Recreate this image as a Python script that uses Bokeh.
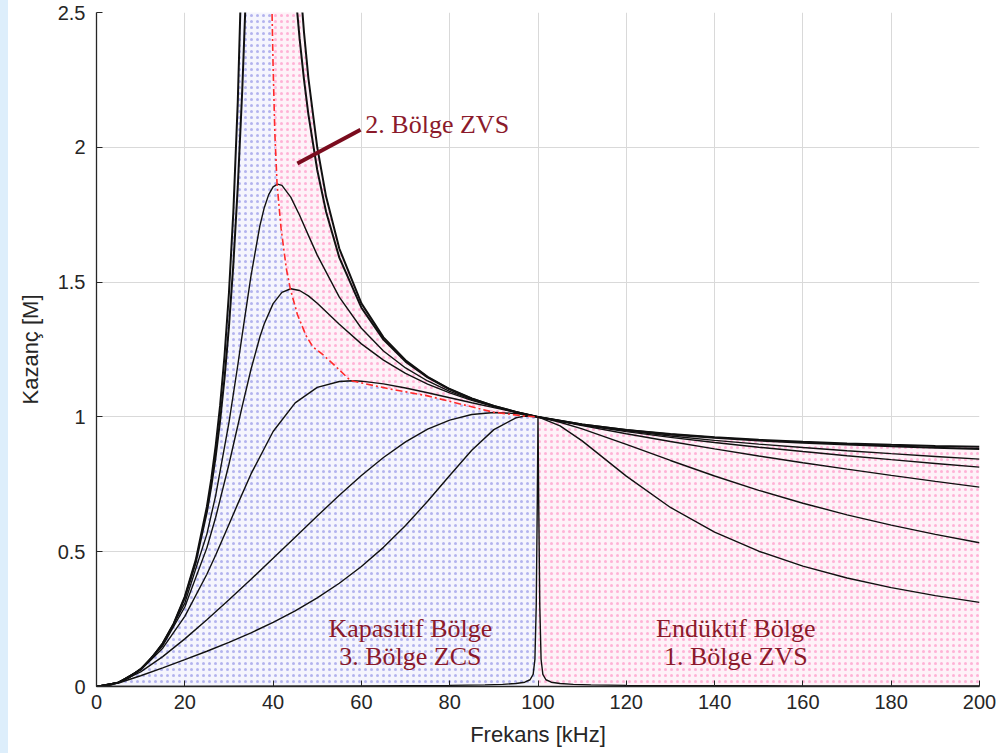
from bokeh.plotting import figure
from bokeh.models import Range1d, FixedTicker, Label, Spacer
from bokeh.layouts import row
from bokeh.embed import file_html
from bokeh.resources import INLINE

# ---------------- data (frequency in kHz, gain M) ----------------
x_ticks = [0, 20, 40, 60, 80, 100, 120, 140, 160, 180, 200]
y_ticks = [0, 0.5, 1, 1.5, 2, 2.5]
y_tick_labels = ["0", "0.5", "1", "1.5", "2", "2.5"]

q0_x = [0, 2.5, 5, 7.5, 10, 12.5, 15, 17.5, 20, 22.5, 25, 26, 27, 28, 29, 30, 31, 32, 33, 34, 44, 45,
        46, 47, 48, 50, 52, 55, 60, 65, 70, 75, 80, 85, 90, 95, 100, 110, 120, 130, 140, 150, 160,
        170, 180, 190, 200]
q0_m = [0, 0.0038, 0.0153, 0.0351, 0.0645, 0.1053, 0.1602, 0.2339, 0.3333, 0.4705, 0.6667, 0.770,
        0.8932, 1.0426, 1.2268, 1.4595, 1.7617, 2.169, 2.749, 3.635, 3.270, 2.910, 2.638, 2.426,
        2.256, 2.0, 1.8172, 1.6242, 1.4211, 1.2950, 1.2099, 1.1489, 1.1034, 1.0684, 1.0407, 1.0183,
        1.0, 0.9719, 0.9515, 0.9363, 0.9245, 0.9153, 0.9078, 0.9017, 0.8967, 0.8925, 0.8889]

q01_x = [0, 2.5, 5, 7.5, 10, 12.5, 15, 17.5, 20, 22.5, 25, 26, 27, 28, 29, 30, 31, 32, 33, 34, 35, 42,
         44, 45, 46, 47, 48, 50, 52, 55, 60, 65, 70, 75, 80, 85, 90, 95, 100, 110, 120, 130, 140,
         150, 160, 170, 180, 190, 200]
q01_m = [0, 0.0038, 0.0153, 0.0351, 0.0644, 0.1049, 0.1594, 0.2320, 0.3291, 0.4615, 0.6468, 0.7422,
         0.8540, 0.9860, 1.1440, 1.3346, 1.5668, 1.853, 2.207, 2.641, 3.154, 3.377, 2.805, 2.586,
         2.404, 2.251, 2.1215, 1.9157, 1.7608, 1.5907, 1.4050, 1.2865, 1.2052, 1.1464, 1.1021,
         1.0677, 1.0404, 1.0183, 1.0, 0.9717, 0.9510, 0.9351, 0.9226, 0.9126, 0.9043, 0.8972,
         0.8911, 0.8858, 0.8811]

q025_x = [0, 5, 10, 15, 20, 25, 27, 30, 32, 33, 35, 37, 38, 39, 40, 41, 42, 44, 46, 48, 50, 55, 60,
          65, 70, 75, 80, 85, 90, 95, 100, 110, 120, 130, 140, 150, 160, 170, 180, 190, 200]
q025_m = [0, 0.0152, 0.0637, 0.1550, 0.3095, 0.5653, 0.7088, 0.9784, 1.1916, 1.3039, 1.5243, 1.7084,
          1.7761, 1.8245, 1.8530, 1.8633, 1.8585, 1.8153, 1.7481, 1.6734, 1.6000, 1.4440, 1.3288,
          1.2445, 1.1815, 1.1332, 1.0950, 1.0644, 1.0391, 1.0180, 1.0, 0.9708, 0.9480, 0.9291,
          0.9131, 0.8991, 0.8864, 0.8747, 0.8637, 0.8533, 0.8433]

q033_x = [0, 5, 10, 15, 20, 25, 27, 30, 32, 33, 35, 37, 38, 40, 42, 44, 46, 48, 50, 55, 60, 65, 70,
          75, 80, 85, 90, 95, 100, 110, 120, 130, 140, 150, 160, 170, 180, 190, 200]
q033_m = [0, 0.0152, 0.0631, 0.1515, 0.2948, 0.5142, 0.6278, 0.8243, 0.9671, 1.0390, 1.1768, 1.2962,
          1.3458, 1.4201, 1.4619, 1.4754, 1.4688, 1.4488, 1.4213, 1.3433, 1.2709, 1.2107, 1.1617,
          1.1218, 1.0889, 1.0614, 1.0380, 1.0177, 1.0, 0.9701, 0.9453, 0.9239, 0.9050, 0.8876,
          0.8714, 0.8561, 0.8414, 0.8273, 0.8136]

q05_x = [0, 5, 10, 15, 20, 25, 27, 30, 32, 35, 40, 45, 50, 55, 58, 60, 65, 70, 75, 80, 85, 90, 95,
         100, 110, 120, 130, 140, 150, 160, 170, 180, 190, 200]
q05_m = [0, 0.0151, 0.0615, 0.1420, 0.2603, 0.4165, 0.4879, 0.6009, 0.6774, 0.7884, 0.9457, 1.0522,
         1.1094, 1.1314, 1.1340, 1.1325, 1.1225, 1.1071, 1.0894, 1.0709, 1.0525, 1.0345, 1.0169,
         1.0, 0.9677, 0.9374, 0.9087, 0.8813, 0.8552, 0.8301, 0.8061, 0.7830, 0.7609, 0.7396]

q1_x = [0, 5, 10, 15, 20, 25, 30, 35, 40, 45, 50, 55, 60, 65, 70, 75, 80, 85, 90, 95, 100, 105, 110,
        120, 130, 140, 150, 160, 170, 180, 190, 200]
q1_m = [0, 0.0146, 0.0544, 0.1108, 0.1767, 0.2476, 0.3216, 0.3977, 0.4753, 0.5539, 0.6325, 0.7094,
        0.7825, 0.8495, 0.9076, 0.9544, 0.9883, 1.0088, 1.0164, 1.0128, 1.0, 0.9802, 0.9556,
        0.8984, 0.8384, 0.7808, 0.7277, 0.6798, 0.6368, 0.5984, 0.5641, 0.5333]

q2_x = [0, 5, 10, 15, 20, 25, 30, 35, 40, 45, 50, 55, 60, 65, 70, 75, 80, 85, 90, 95, 97, 100, 105,
        110, 120, 130, 140, 150, 160, 170, 180, 190, 200]
q2_m = [0, 0.0130, 0.0398, 0.0692, 0.0994, 0.1307, 0.1638, 0.1993, 0.2380, 0.2808, 0.3288, 0.3831,
        0.4452, 0.5161, 0.5969, 0.6870, 0.7829, 0.8763, 0.9528, 0.9968, 1.0030, 1.0, 0.9670,
        0.9112, 0.7803, 0.6641, 0.5725, 0.5018, 0.4465, 0.4025, 0.3667, 0.3370, 0.3121]

spike_x = [0, 20, 40, 60, 80, 88, 92, 95, 97, 98.2, 98.9, 99.3, 99.6, 99.85, 100, 100.15, 100.4,
           100.7, 101.1, 101.8, 103, 105, 108, 112, 120, 140, 160, 180, 200]
spike_m = [0, 0.0004, 0.001, 0.002, 0.004, 0.006, 0.008, 0.011, 0.016, 0.025, 0.045, 0.1, 0.3, 0.7,
           1.0, 0.7, 0.3, 0.1, 0.045, 0.025, 0.016, 0.011, 0.008, 0.006, 0.004, 0.003, 0.0025,
           0.002, 0.002]

# boundary between ZCS and ZVS (dash-dot red)
border_x = [39.7, 40.0, 40.4, 40.9, 41.8, 43.0, 43.9, 45.5, 47.5, 49.0, 51.0, 54.0, 57.5, 66.0,
            75.0, 90.0, 97.0, 100.0]
border_m = [2.55, 2.30, 2.05, 1.863, 1.70, 1.55, 1.475, 1.38, 1.30, 1.26, 1.235, 1.19, 1.135, 1.105,
            1.078, 1.017, 1.003, 1.0]

region_texts = ["Kapasitif Bölge", "3. Bölge ZCS", "Endüktif Bölge", "1. Bölge ZVS"]
callout_text = "2. Bölge ZVS"

# ---------------- figure ----------------
p = figure(frame_width=883, frame_height=674,
           x_range=Range1d(0, 200), y_range=Range1d(0, 2.5),
           output_backend="svg", toolbar_location=None,
           min_border_left=88, min_border_right=17, min_border_top=12, min_border_bottom=67,
           background_fill_color="white", border_fill_color="white")
p.outline_line_color = None

# shaded regions built from the curve arrays
left_branch = [(x, m) for x, m in zip(q0_x, q0_m) if x <= 34]
right_branch = [(x, m) for x, m in zip(q0_x, q0_m) if 44 <= x <= 100]
high_part = [(x, m) for x, m in zip(q0_x, q0_m) if x >= 100]

blue_x = [x for x, _ in left_branch] + border_x + [100, 0]
blue_y = [m for _, m in left_branch] + border_m + [0, 0]
pink2_x = border_x + [x for x, _ in reversed(right_branch)]
pink2_y = border_m + [m for _, m in reversed(right_branch)]
pink1_x = [x for x, _ in high_part] + [200, 100]
pink1_y = [m for _, m in high_part] + [0, 0]

blue_style = dict(fill_color="#F5F5FD", line_color=None, hatch_pattern="dot",
                  hatch_color="#9E9EEA", hatch_scale=6, hatch_weight=1.1, hatch_alpha=0.75)
pink_style = dict(fill_color="#FEF2F8", line_color=None, hatch_pattern="dot",
                  hatch_color="#FF9CCB", hatch_scale=6, hatch_weight=1.1, hatch_alpha=0.75)
p.patch(blue_x, blue_y, **blue_style)
p.patch(pink2_x, pink2_y, **pink_style)
p.patch(pink1_x, pink1_y, **pink_style)

# grid
p.xgrid.ticker = FixedTicker(ticks=x_ticks)
p.ygrid.ticker = FixedTicker(ticks=y_ticks)
p.grid.grid_line_color = "#D9D9D9"
p.grid.grid_line_width = 1
p.grid.level = "image"

# curves
for xs, ms, w in [(q0_x, q0_m, 2.0), (q01_x, q01_m, 2.0), (q025_x, q025_m, 1.4),
                  (q033_x, q033_m, 1.4), (q05_x, q05_m, 1.4), (q1_x, q1_m, 1.4),
                  (q2_x, q2_m, 1.4), (spike_x, spike_m, 1.4)]:
    p.line(xs, ms, line_color="#111111", line_width=w)

p.line(border_x, border_m, line_color="#FF2A2A", line_width=1.6, line_dash="7 3 2 3")

# callout
p.line([45.5, 59.8], [1.94, 2.065], line_color="#7A0C1E", line_width=4)
serif = "Liberation Serif"
txt_color = "#8B1A2B"
p.add_layout(Label(x=60.9, y=2.085, text=callout_text, text_font=serif, text_font_size="26px",
                   text_color=txt_color, text_align="left", text_baseline="middle"))
for (tx, ty), t in zip([(71.1, 0.215), (71.1, 0.113), (144.8, 0.215), (144.8, 0.113)], region_texts):
    p.add_layout(Label(x=tx, y=ty, text=t, text_font=serif, text_font_size="26px",
                       text_color=txt_color, text_align="center", text_baseline="middle"))

# axes
for ax in (p.xaxis[0], p.yaxis[0]):
    ax.axis_line_color = "#262626"
    ax.axis_line_width = 1.3
    ax.major_tick_line_color = "#262626"
    ax.major_tick_in = 6
    ax.major_tick_out = 0
    ax.minor_tick_line_color = None
    ax.major_label_text_font = "Liberation Sans"
    ax.major_label_text_font_size = "20px"
    ax.major_label_text_color = "#262626"
    ax.axis_label_text_font = "Liberation Sans"
    ax.axis_label_text_font_size = "22px"
    ax.axis_label_text_font_style = "normal"
    ax.axis_label_text_color = "#262626"

p.xaxis.ticker = FixedTicker(ticks=x_ticks)
p.yaxis.ticker = FixedTicker(ticks=y_ticks)
p.yaxis.major_label_overrides = {t: s for t, s in zip(y_ticks, y_tick_labels)}
p.xaxis.axis_label = "Frekans [kHz]"
p.yaxis.axis_label = "Kazanç [M]"
p.xaxis.major_label_standoff = 8
p.yaxis.major_label_standoff = 11
p.xaxis.axis_label_standoff = 10
p.yaxis.axis_label_standoff = 12

strip = Spacer(width=8, height=753, styles={"background-color": "#DDEEFB"})
layout = row(strip, p)

open("out.html", "w").write(file_html(layout, INLINE))
